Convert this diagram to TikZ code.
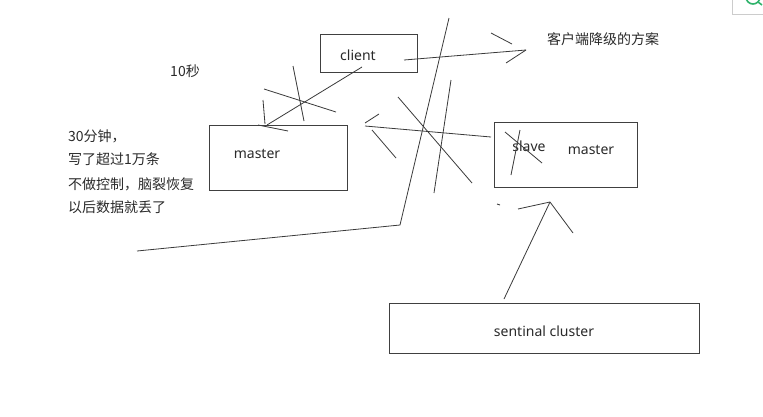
\documentclass[tikz,border=0pt]{standalone}
\usepackage{fontspec}
\setmainfont{Noto Sans}
\newfontfamily\cjk{Noto Sans CJK SC}
\definecolor{inkc}{HTML}{3A3A3A}
\definecolor{boxc}{HTML}{404040}
\definecolor{txtc}{HTML}{2A2A2A}
\definecolor{iconc}{HTML}{2FB36B}
\begin{document}
\begin{tikzpicture}[x=1pt,y=-1pt,
  ink/.style={draw=inkc, line width=0.8pt},
  boxnode/.style={draw=boxc, line width=1pt, inner sep=0pt, rectangle},
  lbl/.style={text=txtc, inner sep=0pt, font=\fontsize{14}{16}\selectfont},
  cn/.style={text=txtc, inner sep=0pt, font=\cjk\fontsize{14}{16}\selectfont}]
\useasboundingbox (0,0) rectangle (763,416);
\fill[white] (0,0) rectangle (763,416);

% corner icon (cropped)
\begin{scope}
\clip (0,0) rectangle (763,416);
\draw[black!20, line width=0.8pt] (732,-2) rectangle (775,14);
\draw[iconc, line width=1.6pt] (753,-3) circle (7);
\draw[iconc, line width=1.6pt] (758,2) -- (762,5);
\end{scope}

% boxes
\node[boxnode, minimum width=97pt, minimum height=38pt] (client) at (368.5,53) {};
\node[boxnode, minimum width=138pt, minimum height=65pt] (master) at (278,157.5) {};
\node[boxnode, minimum width=143pt, minimum height=65pt] (slavebox) at (565.5,154.5) {};
\node[boxnode, minimum width=310pt, minimum height=50pt] (sentinel) at (544,328) {};

% texts
\node[lbl] (clienttxt) at (358,55) {client};
\node[lbl] (mastertxt) at (257,154) {master};
\node[lbl] (slavetxt) at (529,146) {slave};
\node[lbl] (master2txt) at (591,150) {master};
\node[lbl] (senttxt) at (544,331) {sentinal cluster};
\node[cn] (ten) at (185,71) {10秒};
\node[cn] (plan) at (603,39) {客户端降级的方案};
\node[cn, anchor=west] (l1) at (68,136) {30分钟，};
\node[cn, anchor=west] (l2) at (68,159) {写了超过1万条};
\node[cn, anchor=west] (l3) at (68,184) {不做控制，脑裂恢复};
\node[cn, anchor=west] (l4) at (68,207) {以后数据就丢了};

% long partition line
\coordinate (pa) at (449,18);
\coordinate (pb) at (400,225);
\coordinate (pc) at (137,251);
\draw[ink] (pa) -- (pb) -- (pc);

% client -> master (crossed out)
\coordinate (cm1) at (362,67);
\coordinate (cm2) at (267,125);
\coordinate (cmh1) at (263,100);
\coordinate (cmh2) at (265,124);
\coordinate (cmh3) at (258,125);
\coordinate (cmh4) at (288,131);
\draw[ink] (cm1) -- (cm2);
\draw[ink] (cmh1) -- (cmh2);
\draw[ink] (cmh3) -- (cmh4);
\coordinate (cx1) at (264,89);
\coordinate (cx2) at (336,112);
\coordinate (cx3) at (293,66);
\coordinate (cx4) at (304,121);
\draw[ink] (cx1) -- (cx2);
\draw[ink] (cx3) -- (cx4);

% client -> fallback plan
\coordinate (cp1) at (404,60);
\coordinate (cp2) at (526,50);
\coordinate (cph1) at (491,33);
\coordinate (cph2) at (512,44);
\coordinate (cph3) at (506,63);
\draw[ink] (cp1) -- (cp2);
\draw[ink] (cph1) -- (cph2);
\draw[ink] (cph3) -- (cp2);

% slave -> master (crossed out)
\coordinate (sm1) at (491,137);
\coordinate (sm2) at (365,126);
\coordinate (smh1) at (365,123);
\coordinate (smh2) at (379,114);
\coordinate (smh3) at (372,130);
\coordinate (smh4) at (396,158);
\draw[ink] (sm1) -- (sm2);
\draw[ink] (smh1) -- (smh2);
\draw[ink] (smh3) -- (smh4);
\coordinate (sx1) at (398,97);
\coordinate (sx2) at (472,183);
\coordinate (sx3) at (451,80);
\coordinate (sx4) at (434,193);
\draw[ink] (sx1) -- (sx2);
\draw[ink] (sx3) -- (sx4);

% slave crossed out
\coordinate (vx1) at (505,132);
\coordinate (vx2) at (542,163);
\coordinate (vx3) at (520,130);
\coordinate (vx4) at (511,175);
\draw[ink] (vx1) -- (vx2);
\draw[ink] (vx3) -- (vx4);

% sentinel -> slave/master
\coordinate (st1) at (504,299);
\coordinate (st2) at (550,202);
\coordinate (sth1) at (518,209);
\coordinate (sth2) at (573,233);
\draw[ink] (st1) -- (st2);
\draw[ink] (sth1) -- (st2) -- (sth2);
\coordinate (dd1) at (497,204);
\coordinate (dd2) at (500,205);
\draw[ink] (dd1) -- (dd2);
\end{tikzpicture}
\end{document}
